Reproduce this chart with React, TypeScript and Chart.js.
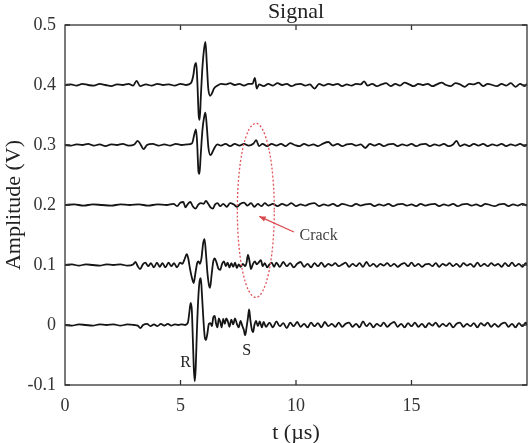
import React, { useEffect, useRef } from "react";
import { Chart, registerables } from "chart.js";

Chart.register(...registerables);

// Baseline offsets (V) for the five stacked traces, top to bottom
const offsets = [0.4, 0.3, 0.2, 0.1, 0];

// Each trace: [time µs, deviation from its baseline V]
const traceA: [number, number][] = [
  [0, 0], [0.25, 0.001], [0.5, -0.001], [0.75, 0.002], [1.0, 0], [1.25, -0.001], [1.5, 0.002], [1.75, 0], [2.0, -0.002],
  [2.25, 0.001], [2.5, 0], [2.75, 0.002], [2.95, -0.001], [3.1, 0.007], [3.25, -0.002], [3.5, 0.001], [3.75, -0.001],
  [4.0, 0.002], [4.25, 0], [4.5, 0.001], [4.75, -0.001], [5.0, 0.002], [5.25, 0], [5.45, 0.003], [5.55, 0.015],
  [5.62, 0.033], [5.68, 0.037], [5.73, 0.005], [5.79, -0.052], [5.83, -0.058], [5.88, -0.02], [5.95, 0.03], [6.02, 0.06],
  [6.08, 0.072], [6.14, 0.035], [6.2, -0.005], [6.28, -0.018], [6.36, -0.014], [6.45, -0.006], [6.6, -0.001],
  [6.75, 0.002], [6.95, 0.001], [7.15, 0.003], [7.35, 0], [7.55, 0.002], [7.75, -0.001], [7.95, 0.002], [8.12, 0.002],
  [8.22, 0.012], [8.3, -0.006], [8.4, 0.001],
  [8.6, -0.002], [8.8, 0.002], [9.0, -0.001], [9.2, 0.003], [9.4, 0], [9.6, 0.002], [9.8, -0.002], [10.0, 0.001],
  [10.2, 0.002], [10.4, -0.001], [10.6, 0.001], [10.8, -0.006], [11.0, 0.002], [11.2, -0.001], [11.4, 0.002],
  [11.6, 0], [11.8, 0.002], [12.0, -0.002], [12.2, 0.001], [12.4, -0.001], [12.6, 0.002], [12.8, 0.001],
  [12.95, 0.006], [13.1, -0.001], [13.3, 0.002], [13.5, -0.002], [13.7, 0.001], [13.9, 0.003], [14.1, -0.002],
  [14.3, 0.002], [14.5, -0.001], [14.7, 0.004], [14.9, 0.001], [15.1, -0.002], [15.3, 0.002], [15.5, 0],
  [15.7, 0.002], [15.9, -0.002], [16.1, 0.001], [16.3, 0.004], [16.5, 0], [16.7, -0.002], [16.9, 0.003],
  [17.1, 0.001], [17.3, -0.003], [17.5, 0.002], [17.7, 0.001], [17.9, 0.004], [18.1, -0.002], [18.3, 0.002],
  [18.5, 0], [18.7, -0.002], [18.9, 0.002], [19.1, -0.001], [19.3, 0.003], [19.5, -0.003], [19.7, 0.002],
  [19.9, -0.002], [20, 0.002],
];

const traceB: [number, number][] = [
  [0, 0], [0.25, -0.001], [0.5, 0.001], [0.75, 0], [1.0, 0.002], [1.25, -0.001], [1.5, 0.001], [1.75, -0.002],
  [2.0, 0.001], [2.25, 0], [2.5, 0.002], [2.75, -0.001], [3.0, 0.001], [3.15, 0.007], [3.27, 0.001], [3.4, -0.007],
  [3.55, 0], [3.8, 0.002], [4.05, -0.001], [4.3, 0.001], [4.55, -0.001], [4.8, 0.002], [5.05, 0], [5.3, 0.001],
  [5.5, 0.003], [5.6, 0.018], [5.67, 0.026], [5.72, 0.004], [5.78, -0.045], [5.82, -0.048], [5.87, -0.02],
  [5.95, 0.025], [6.03, 0.048], [6.08, 0.054], [6.14, 0.03], [6.21, -0.005], [6.3, -0.017], [6.38, -0.012],
  [6.48, -0.004], [6.6, 0.001], [6.75, -0.001], [6.95, 0.002], [7.15, -0.002], [7.35, 0.002], [7.55, -0.001],
  [7.75, 0.002], [7.95, -0.001], [8.15, 0.002], [8.28, 0.008], [8.4, -0.002], [8.55, 0.002], [8.75, -0.002],
  [8.95, 0.002], [9.15, -0.001], [9.35, 0.002], [9.55, -0.002], [9.75, 0.003], [9.95, 0], [10.15, -0.002],
  [10.35, 0.002], [10.55, -0.001], [10.75, 0.001], [10.95, -0.002], [11.15, 0.002], [11.4, 0.005], [11.6, -0.001],
  [11.8, 0.002], [12.0, -0.002], [12.2, 0.001], [12.4, 0.002], [12.6, -0.001], [12.8, 0.001], [13.0, -0.005],
  [13.2, 0.002], [13.4, -0.001], [13.6, 0.002], [13.8, -0.002], [14.0, 0.001], [14.2, 0.002], [14.4, -0.002],
  [14.6, 0.001], [14.8, -0.001], [15.0, 0.002], [15.2, -0.002], [15.4, 0.001], [15.6, 0.002], [15.8, -0.002],
  [16.0, 0.001], [16.2, -0.001], [16.4, 0.002], [16.6, -0.002], [16.8, 0.001], [16.95, 0.007], [17.1, -0.002],
  [17.3, 0.001], [17.5, -0.002], [17.7, 0.002], [17.9, -0.001], [18.1, 0.002], [18.3, -0.002], [18.5, 0.001],
  [18.7, -0.001], [18.9, 0.002], [19.1, -0.002], [19.3, 0.001], [19.5, -0.001], [19.7, 0.002], [19.9, -0.002],
  [20, 0.001],
];

const traceC: [number, number][] = [
  [0, 0], [0.4, 0.001], [0.8, -0.001], [1.2, 0.001], [1.6, 0], [2.0, -0.001], [2.4, 0.001], [2.8, 0], [3.2, 0.001],
  [3.6, -0.001], [4.0, 0.001], [4.4, 0], [4.7, 0.002], [4.85, -0.002], [5.0, 0.004], [5.12, 0.005], [5.22, -0.004],
  [5.32, 0.002], [5.43, 0.005], [5.53, -0.002], [5.65, -0.006], [5.78, 0.001], [5.9, 0.003], [6.0, 0.002],
  [6.1, 0.007], [6.2, 0.002], [6.3, -0.004], [6.4, -0.006], [6.5, 0.001], [6.6, 0.003], [6.72, -0.002],
  [6.85, 0.002], [7.0, -0.003], [7.15, 0.003], [7.3, 0.001], [7.45, -0.003], [7.6, 0.002], [7.75, 0.004],
  [7.9, -0.001], [8.05, 0.003], [8.2, -0.003], [8.35, 0.002], [8.5, -0.002], [8.65, 0.003], [8.8, -0.001],
  [9.0, 0.002], [9.2, -0.002], [9.4, 0.002], [9.6, -0.001], [9.8, 0.003], [10.0, -0.002], [10.2, 0.001],
  [10.4, -0.001], [10.6, 0.002], [10.8, 0.003], [11.0, -0.002], [11.2, 0.001], [11.4, -0.001], [11.6, 0.002],
  [11.8, -0.002], [12.0, 0.002], [12.2, 0], [12.4, -0.002], [12.6, 0.002], [12.8, -0.001], [13.0, 0.001],
  [13.2, 0.002], [13.4, -0.002], [13.6, 0.001], [13.8, -0.001], [14.0, 0.002], [14.2, -0.002], [14.4, 0.001],
  [14.6, 0.002], [14.8, -0.001], [15.0, 0.001], [15.2, -0.002], [15.4, 0.002], [15.6, -0.001], [15.8, 0.001],
  [16.0, 0.002], [16.2, -0.002], [16.4, 0.001], [16.6, -0.001], [16.8, 0.002], [17.0, -0.002], [17.2, 0.001],
  [17.4, 0.002], [17.6, -0.001], [17.8, 0.001], [18.0, -0.002], [18.2, 0.002], [18.4, 0], [18.6, -0.002],
  [18.8, 0.001], [19.0, 0.002], [19.2, -0.002], [19.4, 0.001], [19.6, -0.001], [19.8, 0.002], [20, -0.001],
];

const traceD: [number, number][] = [
  [0, 0], [0.3, 0.001], [0.6, -0.001], [0.9, 0.001], [1.2, 0], [1.5, -0.001], [1.8, 0.001], [2.1, 0], [2.4, 0.001],
  [2.7, -0.001], [2.95, 0.001], [3.05, 0.005], [3.15, -0.002], [3.25, -0.007], [3.37, 0.001], [3.48, 0.004],
  [3.6, -0.002], [3.72, 0.003], [3.85, -0.004], [3.98, 0.004], [4.1, -0.003], [4.22, 0.003], [4.35, -0.004],
  [4.48, 0.004], [4.6, -0.002], [4.72, 0.003], [4.85, -0.004], [4.98, 0.004], [5.08, 0.002], [5.18, 0.01],
  [5.27, 0.018], [5.33, 0.012], [5.42, -0.008], [5.5, -0.022], [5.57, -0.03], [5.64, -0.015], [5.72, 0.003],
  [5.78, 0.006], [5.84, 0.002], [5.91, 0.012], [5.98, 0.036], [6.04, 0.043], [6.1, 0.02], [6.17, -0.015],
  [6.23, -0.033], [6.28, -0.038], [6.35, -0.015], [6.42, 0.006], [6.48, 0.011], [6.56, 0.004], [6.64, -0.006],
  [6.72, -0.008], [6.8, 0.002], [6.88, 0.006], [6.96, -0.002], [7.04, 0.004], [7.12, -0.004], [7.2, 0.003],
  [7.28, -0.003], [7.36, 0.004], [7.44, -0.005], [7.52, 0.001], [7.6, -0.003], [7.7, 0.002], [7.8, -0.002],
  [7.86, 0.004], [7.92, 0.017], [7.98, 0.008], [8.05, -0.007], [8.13, 0.001], [8.22, 0.006], [8.3, 0.001],
  [8.4, 0.005], [8.48, 0.008], [8.56, -0.002], [8.65, 0.003], [8.75, -0.004], [8.85, 0.001], [8.95, 0.004],
  [9.05, -0.003], [9.15, 0.004], [9.3, -0.003], [9.45, 0.005], [9.6, -0.002], [9.75, 0.003], [9.9, -0.004],
  [10.05, 0.002], [10.2, 0.005], [10.35, -0.003], [10.5, 0.002], [10.65, -0.004], [10.8, 0.003], [10.95, -0.002],
  [11.1, 0.004], [11.25, -0.003], [11.4, 0.002], [11.55, -0.001], [11.7, 0.003], [11.85, -0.002], [12.0, 0.001],
  [12.15, 0.004], [12.3, -0.003], [12.45, 0.002], [12.6, -0.002], [12.75, 0.003], [12.9, -0.003], [13.05, 0.005],
  [13.2, -0.002], [13.35, 0.002], [13.5, -0.003], [13.65, 0.002], [13.8, -0.001], [13.95, 0.003], [14.1, -0.002],
  [14.25, 0.002], [14.4, -0.003], [14.55, 0.001], [14.7, 0.003], [14.85, -0.002], [15.0, 0.004], [15.15, -0.002],
  [15.3, 0.002], [15.45, -0.003], [15.6, 0.001], [15.75, 0.002], [15.9, -0.002], [16.05, 0.003], [16.2, -0.003],
  [16.35, 0.002], [16.5, -0.001], [16.65, 0.003], [16.8, -0.002], [16.95, 0.002], [17.1, -0.003], [17.25, 0.003],
  [17.4, -0.001], [17.55, 0.002], [17.7, -0.003], [17.85, 0.004], [18.0, -0.002], [18.15, 0.002], [18.3, -0.002],
  [18.45, 0.003], [18.6, -0.001], [18.75, 0.002], [18.9, -0.003], [19.05, 0.003], [19.2, -0.002], [19.35, 0.004],
  [19.5, -0.002], [19.65, 0.002], [19.8, -0.003], [19.95, 0.003], [20, 0.001],
];

const traceE: [number, number][] = [
  [0, 0], [0.3, -0.001], [0.6, 0.001], [0.9, 0], [1.2, -0.001], [1.5, 0.001], [1.8, 0], [2.1, 0.001], [2.4, -0.001],
  [2.7, 0.001], [3.0, 0], [3.15, -0.001], [3.26, -0.005], [3.38, 0], [3.55, 0.002], [3.7, -0.002], [3.85, 0.001],
  [4.0, -0.002], [4.15, 0.002], [4.3, -0.001], [4.45, 0.002], [4.6, -0.001], [4.75, 0.001], [4.9, 0], [5.05, 0.001],
  [5.2, 0], [5.32, 0.004], [5.38, 0.02], [5.44, 0.037], [5.49, 0.025], [5.54, -0.03], [5.58, -0.075], [5.62, -0.094],
  [5.66, -0.07], [5.71, -0.01], [5.77, 0.045], [5.83, 0.074], [5.88, 0.078], [5.93, 0.05], [5.99, 0.01],
  [6.05, -0.02], [6.1, -0.025], [6.16, -0.015], [6.23, 0.002], [6.3, 0.003], [6.36, -0.002], [6.42, 0.013],
  [6.48, 0.015], [6.54, 0.002], [6.6, -0.004], [6.66, 0.011], [6.72, 0.006], [6.78, -0.004], [6.85, 0.01],
  [6.92, 0.002], [6.98, 0.011], [7.05, 0.006], [7.12, -0.003], [7.2, 0.009], [7.28, 0.001], [7.36, 0.011],
  [7.44, 0.002], [7.52, -0.004], [7.6, 0.007], [7.68, -0.002], [7.74, -0.008], [7.8, -0.017], [7.86, -0.004],
  [7.92, 0.012], [7.97, 0.026], [8.02, 0.01], [8.08, -0.006], [8.14, -0.012], [8.2, 0], [8.27, 0.007],
  [8.35, -0.002], [8.43, 0.006], [8.52, -0.004], [8.6, 0.005], [8.7, -0.003], [8.85, 0.004], [9.0, -0.004],
  [9.15, 0.006], [9.3, -0.002], [9.45, 0.003], [9.6, -0.005], [9.75, 0.004], [9.9, -0.002], [10.05, 0.005],
  [10.2, -0.003], [10.35, 0.002], [10.5, -0.004], [10.65, 0.004], [10.8, -0.002], [10.95, 0.003], [11.1, -0.004],
  [11.25, 0.005], [11.4, -0.002], [11.55, 0.002], [11.7, -0.003], [11.85, 0.004], [12.0, -0.003], [12.15, 0.002],
  [12.3, 0.004], [12.45, -0.003], [12.6, 0.002], [12.75, -0.004], [12.9, 0.006], [13.05, -0.002], [13.2, 0.003],
  [13.35, -0.004], [13.5, 0.002], [13.65, -0.002], [13.8, 0.004], [13.95, -0.003], [14.1, 0.002], [14.25, 0.005],
  [14.4, -0.003], [14.55, 0.002], [14.7, -0.004], [14.85, 0.003], [15.0, -0.002], [15.15, 0.004], [15.3, -0.003],
  [15.45, 0.002], [15.6, -0.004], [15.75, 0.003], [15.9, -0.001], [16.05, 0.004], [16.2, -0.003], [16.35, 0.002],
  [16.5, -0.002], [16.65, 0.003], [16.8, -0.004], [16.95, 0.002], [17.1, 0.004], [17.25, -0.003], [17.4, 0.002],
  [17.55, -0.002], [17.7, 0.003], [17.85, -0.004], [18.0, 0.003], [18.15, -0.001], [18.3, 0.004], [18.45, -0.003],
  [18.6, 0.002], [18.75, -0.003], [18.9, 0.002], [19.05, 0.004], [19.2, -0.003], [19.35, 0.002], [19.5, -0.004],
  [19.65, 0.003], [19.8, -0.002], [19.95, 0.004], [20, 0.001],
];

const traces = [traceA, traceB, traceC, traceD, traceE];

const xTickValues = [0, 5, 10, 15];
const yTickValues = [-0.1, 0, 0.1, 0.2, 0.3, 0.4, 0.5];

// Annotation anchors (data coordinates)
const crackEllipse = { t: 8.26, v: 0.191, rt: 0.8, rv: 0.145 };
const crackArrow = { fromT: 9.91, fromV: 0.155, toT: 8.41, toV: 0.181 };
const crackLabel = { t: 10.15, v: 0.149, text: "Crack" };
const waveLabels = [
  { t: 5.22, v: -0.063, text: "R" },
  { t: 7.87, v: -0.043, text: "S" },
];

const FONT = "'Liberation Serif', 'Times New Roman', serif";

const decorPlugin = {
  id: "decor",
  afterDraw(chart: any) {
    const { ctx, chartArea, scales } = chart;
    const xs = scales.x;
    const ys = scales.y;
    const { left, right, top, bottom } = chartArea;
    ctx.save();
    // frame
    ctx.strokeStyle = "#333";
    ctx.lineWidth = 1.3;
    ctx.strokeRect(left, top, right - left, bottom - top);
    // inward ticks
    const tl = 5;
    ctx.beginPath();
    xTickValues.forEach((t) => {
      if (t === 0) return;
      const px = xs.getPixelForValue(t);
      ctx.moveTo(px, bottom);
      ctx.lineTo(px, bottom - tl);
      ctx.moveTo(px, top);
      ctx.lineTo(px, top + tl);
    });
    yTickValues.forEach((v) => {
      const py = ys.getPixelForValue(v);
      ctx.moveTo(left, py);
      ctx.lineTo(left + tl, py);
      ctx.moveTo(right, py);
      ctx.lineTo(right - tl, py);
    });
    ctx.stroke();

    // title
    ctx.fillStyle = "#222";
    ctx.font = `22px ${FONT}`;
    ctx.textAlign = "center";
    ctx.textBaseline = "alphabetic";
    ctx.fillText("Signal", (left + right) / 2, 18);

    // axis titles
    ctx.fillText("t (\u00b5s)", (left + right) / 2, 439);
    ctx.save();
    ctx.translate(20, (top + bottom) / 2);
    ctx.rotate(-Math.PI / 2);
    ctx.fillText("Amplitude (V)", 0, 0);
    ctx.restore();

    // crack ellipse
    const cx = xs.getPixelForValue(crackEllipse.t);
    const cy = ys.getPixelForValue(crackEllipse.v);
    const rx = Math.abs(xs.getPixelForValue(crackEllipse.t + crackEllipse.rt) - cx);
    const ry = Math.abs(ys.getPixelForValue(crackEllipse.v + crackEllipse.rv) - cy);
    ctx.strokeStyle = "#e0555a";
    ctx.lineWidth = 1.3;
    ctx.setLineDash([2, 2]);
    ctx.beginPath();
    ctx.ellipse(cx, cy, rx, ry, 0, 0, Math.PI * 2);
    ctx.stroke();
    ctx.setLineDash([]);

    // arrow
    const ax0 = xs.getPixelForValue(crackArrow.fromT);
    const ay0 = ys.getPixelForValue(crackArrow.fromV);
    const ax1 = xs.getPixelForValue(crackArrow.toT);
    const ay1 = ys.getPixelForValue(crackArrow.toV);
    ctx.strokeStyle = "#d9484d";
    ctx.fillStyle = "#d9484d";
    ctx.lineWidth = 1.2;
    ctx.beginPath();
    ctx.moveTo(ax0, ay0);
    ctx.lineTo(ax1, ay1);
    ctx.stroke();
    const ang = Math.atan2(ay1 - ay0, ax1 - ax0);
    const hl = 7;
    ctx.beginPath();
    ctx.moveTo(ax1, ay1);
    ctx.lineTo(ax1 - hl * Math.cos(ang - 0.4), ay1 - hl * Math.sin(ang - 0.4));
    ctx.lineTo(ax1 - hl * Math.cos(ang + 0.4), ay1 - hl * Math.sin(ang + 0.4));
    ctx.closePath();
    ctx.fill();

    // labels
    ctx.fillStyle = "#444";
    ctx.font = `16px ${FONT}`;
    ctx.textAlign = "left";
    ctx.textBaseline = "middle";
    ctx.fillText(crackLabel.text, xs.getPixelForValue(crackLabel.t), ys.getPixelForValue(crackLabel.v));
    ctx.fillStyle = "#222";
    ctx.textAlign = "center";
    waveLabels.forEach((l) => {
      ctx.fillText(l.text, xs.getPixelForValue(l.t), ys.getPixelForValue(l.v));
    });
    ctx.restore();
  },
};

export default function App() {
  const ref = useRef<HTMLCanvasElement | null>(null);
  useEffect(() => {
    if (!ref.current) return;
    const datasets = traces.map((tr, i) => ({
      label: `trace ${offsets[i]}`,
      data: tr.map(([t, d]) => ({ x: t, y: offsets[i] + d })),
      borderColor: "#151515",
      borderWidth: 1.8,
      pointRadius: 0,
      fill: false,
      cubicInterpolationMode: "monotone" as const,
    }));
    const chart = new Chart(ref.current, {
      type: "line",
      data: { datasets },
      plugins: [decorPlugin],
      options: {
        animation: false,
        responsive: false,
        maintainAspectRatio: false,
        parsing: false,
        layout: { padding: { top: 25, right: 4, left: 0, bottom: 0 } },
        plugins: { legend: { display: false }, tooltip: { enabled: false }, title: { display: false } },
        scales: {
          x: {
            type: "linear",
            min: 0,
            max: 20,
            afterBuildTicks: (s: any) => {
              s.ticks = xTickValues.map((v) => ({ value: v }));
            },
            afterFit: (s: any) => {
              s.height = 58;
            },
            grid: { display: false, drawTicks: false },
            border: { display: false },
            ticks: {
              color: "#333",
              font: { family: FONT, size: 18 },
              padding: 10,
              maxRotation: 0,
              callback: (v: any) => String(v),
            },
          },
          y: {
            type: "linear",
            min: -0.1,
            max: 0.5,
            afterBuildTicks: (s: any) => {
              s.ticks = yTickValues.map((v) => ({ value: v }));
            },
            afterFit: (s: any) => {
              s.width = 65;
            },
            grid: { display: false, drawTicks: false },
            border: { display: false },
            ticks: {
              color: "#333",
              font: { family: FONT, size: 18 },
              padding: 9,
              callback: (v: any) => String(Math.round(Number(v) * 10) / 10),
            },
          },
        },
      },
    });
    return () => chart.destroy();
  }, []);
  return (
    <div style={{ position: "fixed", left: 0, top: 0, width: 531, height: 443, background: "#fff" }}>
      <canvas ref={ref} width={531} height={443} style={{ display: "block" }} />
    </div>
  );
}
